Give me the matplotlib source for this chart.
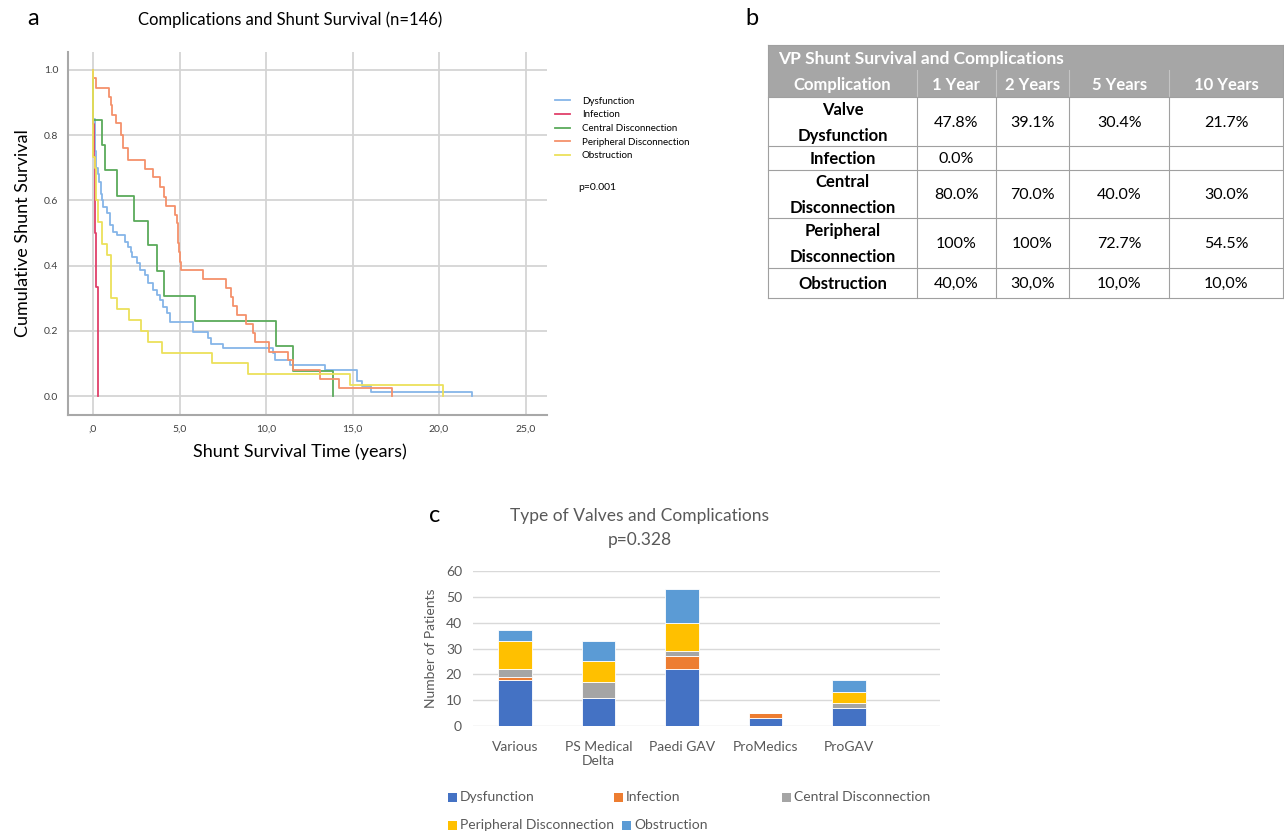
import matplotlib as mpl
from matplotlib import pyplot as plt
from matplotlib.patches import Rectangle

plt.rcParams['font.family'] = ['Lato', 'DejaVu Sans']

# ---- panel a: Kaplan-Meier curves ----
km_names = ["Dysfunction", "Infection", "Central Disconnection", "Peripheral Disconnection", "Obstruction"]
dys_t = [0, 0.02, 0.1, 0.17, 0.28, 0.36, 0.45, 0.5, 0.6, 0.8, 0.99, 1.18, 1.37, 1.86, 2.05, 2.2, 2.24,
         2.53, 2.72, 3.01, 3.2, 3.49, 3.68, 3.87, 4.06, 4.26, 4.45, 5.8, 6.66, 6.8, 7.5, 10.4, 10.5,
         11.4, 13.4, 15.24, 15.55, 16.07, 21.9]
dys_s = [1.0, 0.85, 0.75, 0.70, 0.68, 0.657, 0.62, 0.60, 0.58, 0.56, 0.525, 0.504, 0.494, 0.473, 0.458,
         0.443, 0.427, 0.407, 0.387, 0.371, 0.346, 0.325, 0.31, 0.294, 0.274, 0.254, 0.228, 0.197, 0.177,
         0.16, 0.146, 0.133, 0.11, 0.095, 0.08, 0.046, 0.03, 0.013, 0.0]
inf_t = [0, 0.02, 0.07, 0.1, 0.17, 0.3]
inf_s = [1.0, 0.833, 0.733, 0.5, 0.333, 0.0]
cen_t = [0, 0.02, 0.5, 0.69, 1.41, 2.37, 3.2, 3.72, 4.10, 5.9, 10.56, 11.54, 13.9]
cen_s = [1.0, 0.846, 0.769, 0.692, 0.615, 0.538, 0.462, 0.385, 0.308, 0.231, 0.154, 0.077, 0.0]
per_t = [0, 0.02, 0.17, 0.94, 1.04, 1.11, 1.31, 1.60, 1.72, 2.01, 3.01, 3.45, 3.87, 4.10, 4.22, 4.74,
         4.84, 4.93, 4.98, 5.04, 5.07, 6.38, 7.67, 7.96, 8.11, 8.30, 8.84, 9.23, 9.36, 10.19, 11.29,
         11.54, 13.1, 14.24, 17.27]
per_s = [1.0, 0.976, 0.946, 0.918, 0.891, 0.862, 0.837, 0.802, 0.761, 0.724, 0.696, 0.673, 0.642, 0.611,
         0.583, 0.555, 0.53, 0.47, 0.442, 0.412, 0.386, 0.359, 0.33, 0.305, 0.276, 0.248, 0.221, 0.192,
         0.166, 0.136, 0.11, 0.08, 0.052, 0.024, 0.0]
obs_t = [0, 0.02, 0.12, 0.2, 0.31, 0.5, 0.79, 1.02, 1.4, 2.08, 2.77, 3.2, 3.97, 6.9, 8.98, 14.86, 20.25]
obs_s = [1.0, 0.733, 0.70, 0.60, 0.533, 0.467, 0.433, 0.30, 0.267, 0.233, 0.20, 0.167, 0.133, 0.10,
         0.067, 0.033, 0.0]
km_colors = ['#86b5e8', '#e0406a', '#5aaa5a', '#f4916b', '#ece05a']

# ---- panel b: table ----
tab_title = "VP Shunt Survival and Complications"
tab_cols = ["Complication", "1 Year", "2 Years", "5 Years", "10 Years"]
tab_rows = ["Valve\nDysfunction", "Infection", "Central\nDisconnection", "Peripheral\nDisconnection", "Obstruction"]
tab_vals = [["47.8%", "39.1%", "30.4%", "21.7%"],
            ["0.0%", "", "", ""],
            ["80.0%", "70.0%", "40.0%", "30.0%"],
            ["100%", "100%", "72.7%", "54.5%"],
            ["40,0%", "30,0%", "10,0%", "10,0%"]]

# ---- panel c: stacked bars ----
valves = ["Various", "PS Medical\nDelta", "Paedi GAV", "ProMedics", "ProGAV"]
bar_names = ["Dysfunction", "Infection", "Central Disconnection", "Peripheral Disconnection", "Obstruction"]
dysfunction = [18, 11, 22, 3, 7]
infection = [1, 0, 5, 2, 0]
central = [3, 6, 2, 0, 2]
peripheral = [11, 8, 11, 0, 4]
obstruction = [4, 8, 13, 0, 5]
bar_colors = ['#4472c4', '#ed7d31', '#a5a5a5', '#ffc000', '#5b9bd5']

W, H = 1284, 834
fig = plt.figure(figsize=(W / 100, H / 100), dpi=100)
fig.patch.set_facecolor('white')

def fx(x):
    return x / W

def fy(y):
    return 1 - y / H

# panel a
ax = fig.add_axes([fx(68), fy(415), fx(547 - 68), (415 - 52) / H])
for t, s, c, n in zip([dys_t, inf_t, cen_t, per_t, obs_t], [dys_s, inf_s, cen_s, per_s, obs_s], km_colors, km_names):
    ax.step(t, s, where='post', color=c, lw=1.3, label=n)
ax.set_xlim(-1.445, 26.24)
ax.set_ylim(-0.058, 1.055)
ax.set_xticks([0, 5, 10, 15, 20, 25])
ax.set_xticklabels([",0", "5,0", "10,0", "15,0", "20,0", "25,0"])
ax.set_yticks([0, 0.2, 0.4, 0.6, 0.8, 1.0])
ax.set_yticklabels(["0.0", "0.2", "0.4", "0.6", "0.8", "1.0"])
ax.tick_params(length=0, labelsize=7.5, colors='#404040', pad=7)
ax.grid(True, color='#d4d4d4', lw=1.3)
ax.set_axisbelow(True)
for sp in ['top', 'right']:
    ax.spines[sp].set_visible(False)
for sp in ['left', 'bottom']:
    ax.spines[sp].set_color('#a8a8a8')
    ax.spines[sp].set_linewidth(1.5)
ax.set_ylabel("Cumulative Shunt Survival", fontsize=13, labelpad=9)
ax.legend(loc='upper left', bbox_to_anchor=(fx(546), fy(88)), bbox_transform=fig.transFigure,
          frameon=False, fontsize=7, handlelength=1.6, labelspacing=0.48, handletextpad=1.2)

# overlay in pixel coordinates for labels, table and bar legend
ov = fig.add_axes([0, 0, 1, 1])
ov.set_xlim(0, W)
ov.set_ylim(H, 0)
ov.axis('off')
ov.patch.set_alpha(0)
ov.text(33, 18, "a", fontsize=17, ha='center', va='center')
ov.text(752, 18, "b", fontsize=17, ha='center', va='center')
ov.text(435, 515, "c", fontsize=17, ha='center', va='center')
ov.text(290, 20, "Complications and Shunt Survival (n=146)", fontsize=12, ha='center', va='center')
ov.text(300, 452, "Shunt Survival Time (years)", fontsize=13, ha='center', va='center')
ov.text(578, 187, "p=0.001", fontsize=7.5, ha='left', va='center')

# table
xs = [768, 917, 995.7, 1069, 1169.3, 1283]
ys = [45, 70, 97.3, 146, 170, 218.3, 267.7, 298.3]
grey = '#a6a6a6'
ov.add_patch(Rectangle((xs[0], ys[0]), xs[-1] - xs[0], ys[2] - ys[0], facecolor=grey, edgecolor='none'))
ov.text(xs[0] + 10, (ys[0] + ys[1]) / 2 + 1, tab_title, color='white', fontweight='bold', fontsize=12.5,
        ha='left', va='center')
for j, c in enumerate(tab_cols):
    ov.text((xs[j] + xs[j + 1]) / 2, (ys[1] + ys[2]) / 2 + 1, c, color='white', fontweight='bold',
            fontsize=12, ha='center', va='center')
for xx in xs[1:-1]:
    ov.plot([xx, xx], [ys[1], ys[2]], color='#c4c4c4', lw=0.8)
    ov.plot([xx, xx], [ys[2], ys[-1]], color='#a0a0a0', lw=0.8)
for yy in ys[2:]:
    ov.plot([xs[0], xs[-1]], [yy, yy], color='#a0a0a0', lw=0.8)
ov.plot([xs[0], xs[0]], [ys[0], ys[-1]], color='#a0a0a0', lw=0.8)
ov.plot([xs[-1], xs[-1]], [ys[0], ys[-1]], color='#a0a0a0', lw=0.8)
ov.plot([xs[0], xs[-1]], [ys[0], ys[0]], color='#a0a0a0', lw=0.8)
for i, r in enumerate(tab_rows):
    yc = (ys[i + 2] + ys[i + 3]) / 2 + 1
    ov.text((xs[0] + xs[1]) / 2, yc, r, fontweight='bold', fontsize=12, ha='center', va='center',
            linespacing=1.75)
    for j, v in enumerate(tab_vals[i]):
        ov.text((xs[j + 1] + xs[j + 2]) / 2, yc, v, fontsize=11.5, ha='center', va='center')

# panel c
bx = fig.add_axes([fx(473), fy(726), fx(940 - 473), (726 - 571) / H])
pos = list(range(len(valves)))
bottom = [0] * len(valves)
for vals, c, n in zip([dysfunction, infection, central, peripheral, obstruction], bar_colors, bar_names):
    bx.bar(pos, vals, bottom=bottom, width=0.4, color=c, edgecolor='white', linewidth=0.6, label=n, zorder=3)
    bottom = [b + v for b, v in zip(bottom, vals)]
bx.set_xlim(-0.5, 5.086)
bx.set_ylim(0, 60)
bx.set_yticks(range(0, 61, 10))
bx.set_xticks(pos)
bx.set_xticklabels(valves)
bx.tick_params(length=0, labelsize=10, colors='#595959')
bx.tick_params(axis='x', pad=11)
bx.tick_params(axis='y', pad=8)
bx.grid(axis='y', color='#d9d9d9', lw=1)
for sp in bx.spines.values():
    sp.set_visible(False)
bx.set_ylabel("Number of Patients", fontsize=10, color='#595959', labelpad=6)
ov.text(640, 516, "Type of Valves and Complications", fontsize=12.5, color='#595959', ha='center', va='center')
ov.text(640, 540, "p=0.328", fontsize=12.5, color='#595959', ha='center', va='center')

leg_pos = [(452, 797), (618, 797), (786, 797), (452, 825), (626, 825)]
for (lx, ly), c, n in zip(leg_pos, bar_colors, bar_names):
    ov.add_patch(Rectangle((lx - 4, ly - 4.5), 9, 9, facecolor=c, edgecolor='none'))
    ov.text(lx + 8, ly, n, fontsize=10, color='#595959', ha='left', va='center')

fig.savefig("out.png", dpi=100)
